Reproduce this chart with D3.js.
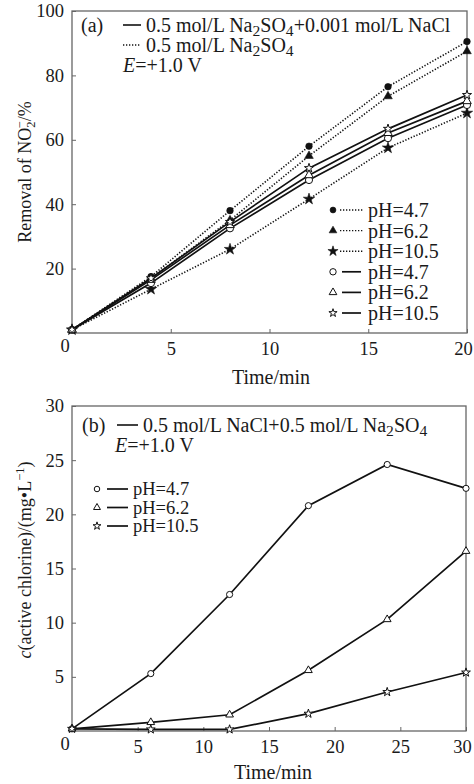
<!DOCTYPE html>
<html>
<head>
<meta charset="utf-8">
<script src="https://cdn.jsdelivr.net/npm/d3@7"></script>
<style>
  html, body { margin: 0; padding: 0; background: #fff; }
  svg text { font-family: "Liberation Serif", "Times New Roman", serif; fill: #1a1a1a; }
</style>
</head>
<body>
<div id="chart"></div>
<script>
// ---- data: panel (a) removal of NO2- (%) ----
const timesA = [0, 4, 8, 12, 16, 20];
const dotPH47 = [1, 17.5, 38, 58, 76.5, 90.5];
const dotPH62 = [1, 17, 35, 55, 73.5, 87.5];
const dotPH105 = [1, 13.6, 26, 41.6, 57.5, 68.3];
const solPH47 = [1, 15.5, 32.5, 47.5, 60.5, 70.8];
const solPH62 = [1, 16.5, 33.5, 49, 62.1, 72];
const solPH105 = [1, 17, 34.5, 51.2, 63.4, 73.9];
const ticksXA = [5, 10, 15, 20];
const ticksYA = [20, 40, 60, 80, 100];

// ---- data: panel (b) active chlorine (mg/L) ----
const timesB = [0, 6, 12, 18, 24, 30];
const bPH47 = [0.2, 5.3, 12.6, 20.8, 24.6, 22.4];
const bPH62 = [0.2, 0.8, 1.5, 5.6, 10.3, 16.6];
const bPH105 = [0.2, 0.15, 0.15, 1.6, 3.6, 5.4];
const ticksXB = [5, 10, 15, 20, 25, 30];
const ticksYB = [5, 10, 15, 20, 25, 30];

const W = 474, H = 784;
const svg = d3.select('#chart').append('svg').attr('width', W).attr('height', H);

const FRAME = '#666';
const TICK_FS = 18.5;
const FS = 20;

const symbolOf = { circle: d3.symbolCircle, triangle: d3.symbolTriangle, star: d3.symbolStar };

function subText(sel, parts) {
  // parts: [text, kind] where kind: null | 'sub' | 'it'
  parts.forEach(([t, k]) => {
    const ts = sel.append('tspan').text(t);
    if (k === 'sub') ts.attr('baseline-shift', '-25%').attr('font-size', '78%');
    if (k === 'it') ts.attr('font-style', 'italic');
  });
}

function panel(opt) {
  const x = d3.scaleLinear().domain(opt.xDomain).range([opt.left, opt.right]);
  const y = d3.scaleLinear().domain(opt.yDomain).range([opt.bottom, opt.top]);
  const g = svg.append('g');

  // ticks (inward)
  g.append('g')
    .attr('transform', `translate(0,${opt.bottom})`)
    .call(d3.axisBottom(x).tickValues(opt.xTicks).tickSize(-4).tickPadding(9).tickFormat(d3.format('d')))
    .call(a => a.select('.domain').remove())
    .call(a => a.selectAll('line').attr('stroke', FRAME))
    .call(a => a.selectAll('text').attr('font-size', TICK_FS).attr('fill', '#1a1a1a')
      .attr('font-family', 'Liberation Serif')
      .attr('dx', d => d === opt.xDomain[1] ? -4 : 0));

  g.append('g')
    .attr('transform', `translate(${opt.left},0)`)
    .call(d3.axisLeft(y).tickValues(opt.yTicks).tickSize(-4).tickPadding(8).tickFormat(d3.format('d')))
    .call(a => a.select('.domain').remove())
    .call(a => a.selectAll('line').attr('stroke', FRAME))
    .call(a => a.selectAll('text').attr('font-size', TICK_FS).attr('fill', '#1a1a1a').attr('font-family', 'Liberation Serif'));

  // shared origin label
  g.append('text').attr('x', opt.left - 7).attr('y', opt.bottom + 19)
    .attr('text-anchor', 'middle').attr('font-size', TICK_FS).text('0');

  // frame
  g.append('rect')
    .attr('x', opt.left).attr('y', opt.top)
    .attr('width', opt.right - opt.left).attr('height', opt.bottom - opt.top)
    .attr('fill', 'none').attr('stroke', FRAME).attr('stroke-width', 1.3);

  const line = d3.line().x(d => x(d[0])).y(d => y(d[1]));
  opt.series.forEach(s => {
    const pts = s.times.map((t, i) => [t, s.values[i]]);
    g.append('path')
      .attr('d', line(pts))
      .attr('fill', 'none')
      .attr('stroke', '#111')
      .attr('stroke-width', s.dotted ? 1.6 : 1.7)
      .attr('stroke-dasharray', s.dotted ? '1.3,1.7' : null);
    g.selectAll(null).data(pts).enter().append('path')
      .attr('transform', d => `translate(${x(d[0])},${y(d[1])})`)
      .attr('d', d3.symbol().type(symbolOf[s.shape]).size(s.size))
      .attr('fill', s.filled ? '#111' : '#fff')
      .attr('stroke', '#111')
      .attr('stroke-width', s.filled ? 0.6 : 1);
  });
  return { x, y, g };
}

// ---------- panel (a) ----------
const seriesA = [
  { times: timesA, values: dotPH47, dotted: true, shape: 'circle', filled: true, size: 34, label: 'pH=4.7' },
  { times: timesA, values: dotPH62, dotted: true, shape: 'triangle', filled: true, size: 32, label: 'pH=6.2' },
  { times: timesA, values: dotPH105, dotted: true, shape: 'star', filled: true, size: 40, label: 'pH=10.5' },
  { times: timesA, values: solPH47, dotted: false, shape: 'circle', filled: false, size: 40, label: 'pH=4.7' },
  { times: timesA, values: solPH62, dotted: false, shape: 'triangle', filled: false, size: 32, label: 'pH=6.2' },
  { times: timesA, values: solPH105, dotted: false, shape: 'star', filled: false, size: 26, label: 'pH=10.5' }
];

panel({
  xDomain: [0, 20], yDomain: [0, 100],
  left: 72, right: 467, top: 11, bottom: 333,
  xTicks: ticksXA, yTicks: ticksYA,
  series: seriesA
});

// header text (a)
svg.append('text').attr('x', 81).attr('y', 32).attr('font-size', FS).text('(a)');
svg.append('line').attr('x1', 123).attr('x2', 141).attr('y1', 25).attr('y2', 25)
  .attr('stroke', '#111').attr('stroke-width', 1.6);
subText(svg.append('text').attr('x', 146).attr('y', 32).attr('font-size', FS),
  [['0.5 mol/L Na', null], ['2', 'sub'], ['SO', null], ['4', 'sub'], ['+0.001 mol/L NaCl', null]]);
svg.append('line').attr('x1', 123).attr('x2', 141).attr('y1', 45).attr('y2', 45)
  .attr('stroke', '#111').attr('stroke-width', 1.4).attr('stroke-dasharray', '1.3,1.7');
subText(svg.append('text').attr('x', 146).attr('y', 52).attr('font-size', FS),
  [['0.5 mol/L Na', null], ['2', 'sub'], ['SO', null], ['4', 'sub']]);
subText(svg.append('text').attr('x', 123).attr('y', 72).attr('font-size', FS),
  [['E', 'it'], ['=+1.0 V', null]]);

// legend (a)
const legA = svg.append('g');
seriesA.forEach((s, i) => {
  const cy = 210 + i * 20.6;
  legA.append('path')
    .attr('transform', `translate(333,${cy})`)
    .attr('d', d3.symbol().type(symbolOf[s.shape]).size(s.size * 0.8))
    .attr('fill', s.filled ? '#111' : '#fff')
    .attr('stroke', '#111').attr('stroke-width', s.filled ? 0.6 : 1);
  legA.append('line')
    .attr('x1', s.dotted ? 340 : 342).attr('x2', s.dotted ? 364 : 361)
    .attr('y1', cy).attr('y2', cy)
    .attr('stroke', '#111').attr('stroke-width', s.dotted ? 1.4 : 1.7)
    .attr('stroke-dasharray', s.dotted ? '1.3,1.7' : null);
  legA.append('text').attr('x', 368).attr('y', cy + 7).attr('font-size', FS).text(s.label);
});

// axis titles (a)
svg.append('text').attr('x', 271).attr('y', 384).attr('text-anchor', 'middle').attr('font-size', FS).text('Time/min');
const ylA = svg.append('text')
  .attr('transform', 'translate(31,172) rotate(-90)')
  .attr('text-anchor', 'middle').attr('font-size', 18);
ylA.append('tspan').text('Removal of NO');
ylA.append('tspan').attr('font-size', '70%').attr('dy', 4).text('2');
ylA.append('tspan').attr('font-size', '70%').attr('dx', -7).attr('dy', -11).text('−');
ylA.append('tspan').attr('dy', 7).text('/%');

// ---------- panel (b) ----------
const seriesB = [
  { times: timesB, values: bPH47, dotted: false, shape: 'circle', filled: false, size: 30, label: 'pH=4.7' },
  { times: timesB, values: bPH62, dotted: false, shape: 'triangle', filled: false, size: 26, label: 'pH=6.2' },
  { times: timesB, values: bPH105, dotted: false, shape: 'star', filled: false, size: 24, label: 'pH=10.5' }
];

panel({
  xDomain: [0, 30], yDomain: [0, 30],
  left: 72, right: 466, top: 406, bottom: 731,
  xTicks: ticksXB, yTicks: ticksYB,
  series: seriesB
});

svg.append('text').attr('x', 82).attr('y', 432).attr('font-size', FS).text('(b)');
svg.append('line').attr('x1', 117).attr('x2', 138).attr('y1', 425).attr('y2', 425)
  .attr('stroke', '#111').attr('stroke-width', 1.6);
subText(svg.append('text').attr('x', 143).attr('y', 432).attr('font-size', FS),
  [['0.5 mol/L NaCl+0.5 mol/L  Na', null], ['2', 'sub'], ['SO', null], ['4', 'sub']]);
subText(svg.append('text').attr('x', 115).attr('y', 452).attr('font-size', FS),
  [['E', 'it'], ['=+1.0 V', null]]);

const legB = svg.append('g');
seriesB.forEach((s, i) => {
  const cy = 489 + i * 18.5;
  legB.append('path')
    .attr('transform', `translate(97,${cy})`)
    .attr('d', d3.symbol().type(symbolOf[s.shape]).size(s.size * 0.8))
    .attr('fill', '#fff').attr('stroke', '#111').attr('stroke-width', 1);
  legB.append('line').attr('x1', 107).attr('x2', 128).attr('y1', cy).attr('y2', cy)
    .attr('stroke', '#111').attr('stroke-width', 1.7);
  legB.append('text').attr('x', 133).attr('y', cy + 6).attr('font-size', 18.5).text(s.label);
});

svg.append('text').attr('x', 273).attr('y', 779).attr('text-anchor', 'middle').attr('font-size', FS).text('Time/min');
const ylB = svg.append('text')
  .attr('transform', 'translate(31,560) rotate(-90)')
  .attr('text-anchor', 'middle').attr('font-size', 18);
ylB.append('tspan').attr('font-style', 'italic').text('c');
ylB.append('tspan').text('(active chlorine)/(mg•L');
ylB.append('tspan').attr('font-size', '70%').attr('dy', -7).text('−1');
ylB.append('tspan').attr('dy', 7).text(')');
</script>
</body>
</html>
